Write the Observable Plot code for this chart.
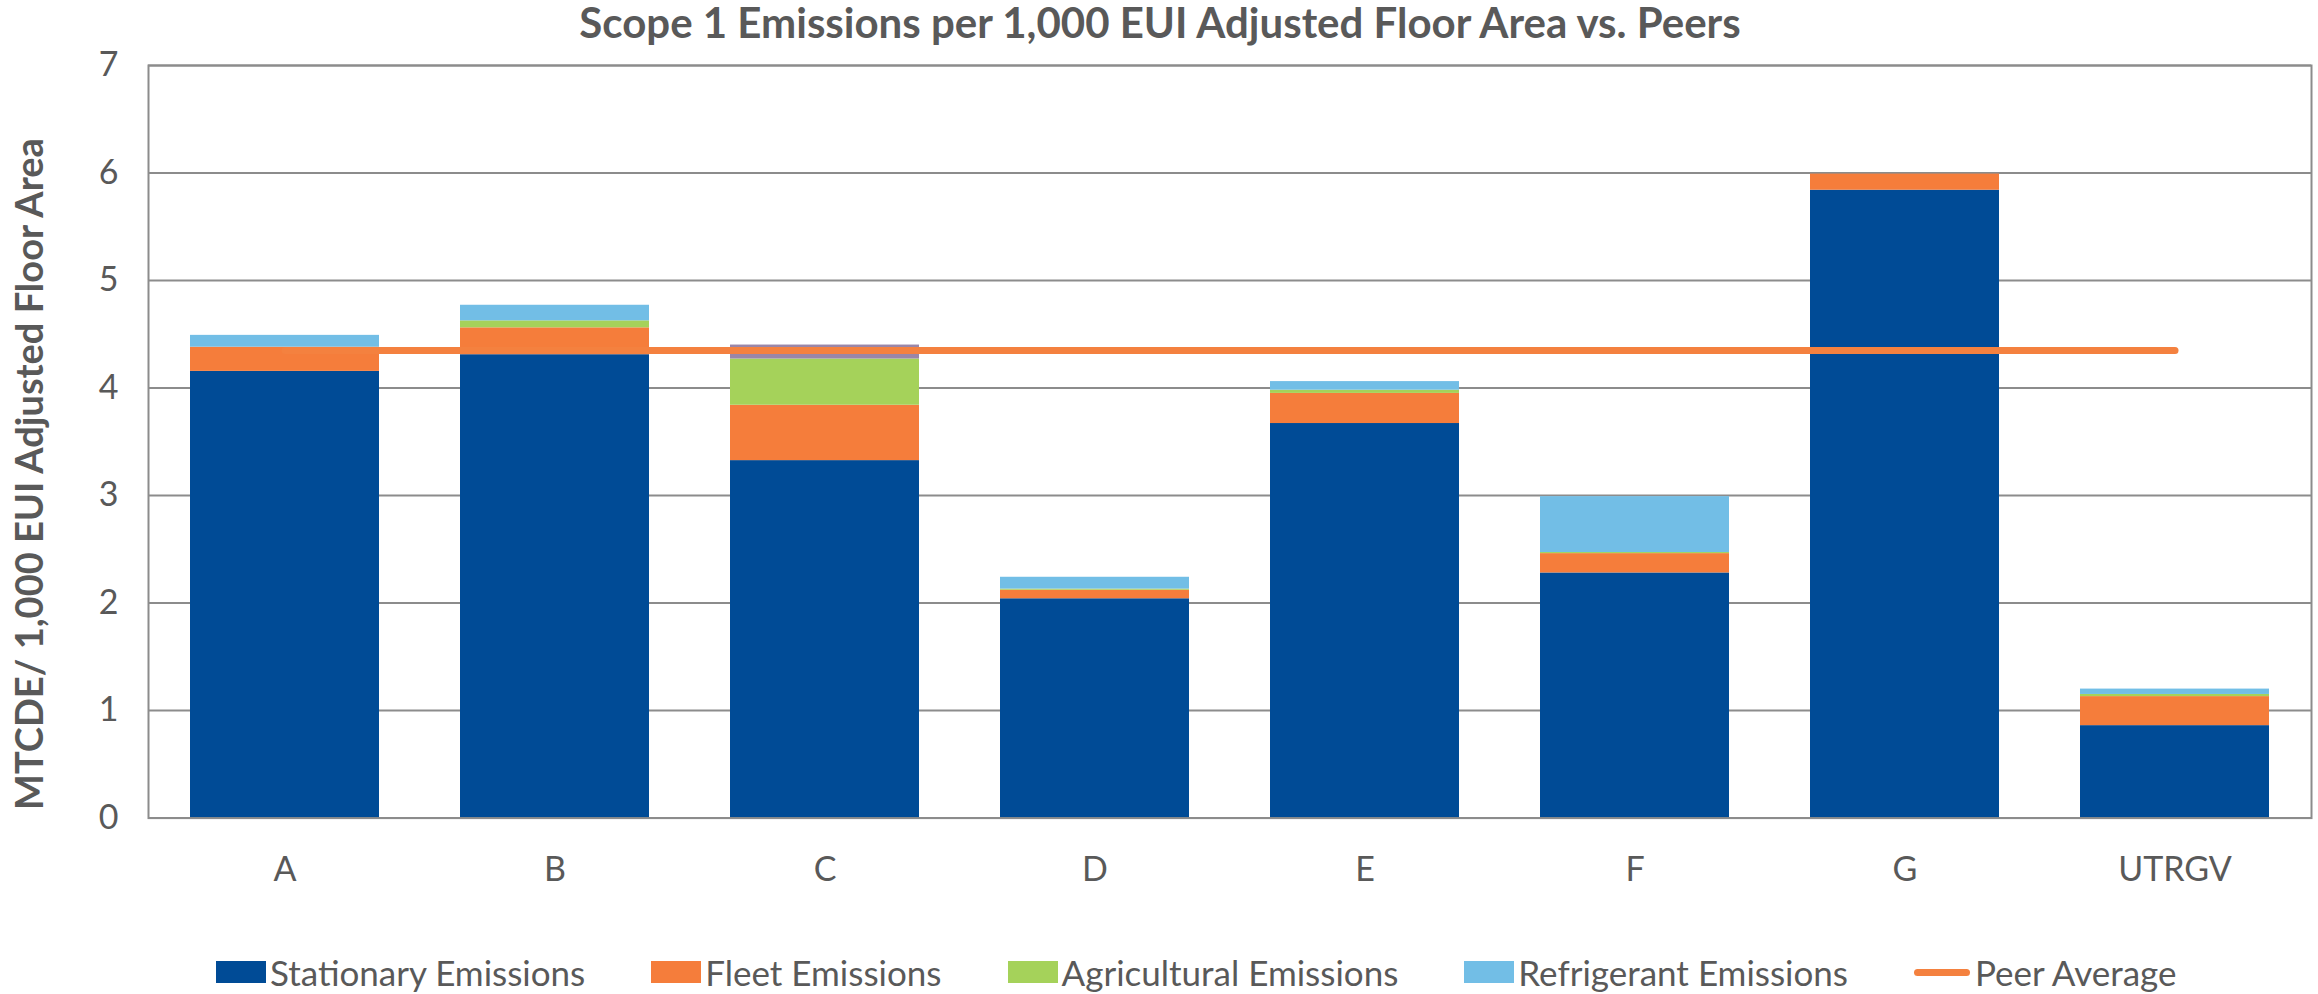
<!DOCTYPE html>
<html>
<head>
<meta charset="utf-8">
<script src="https://cdn.jsdelivr.net/npm/d3@7"></script>
<script src="https://cdn.jsdelivr.net/npm/@observablehq/plot@0.6"></script>
<style>
  html, body { margin: 0; padding: 0; background: #ffffff; }
  body { width: 2318px; height: 994px; overflow: hidden; font-family: Lato, "Open Sans", sans-serif; color: #595959; }
  #title { height: 44px; line-height: 44px; text-align: center; font-weight: bold; font-size: 42px; color: #595959; white-space: nowrap; padding-left: 2px; }
  #chart svg { display: block; }
  #legend { height: 94px; display: flex; align-items: center; padding-left: 216px; padding-top: 50px; box-sizing: border-box; white-space: nowrap; }
  .item { display: flex; align-items: center; margin-right: 66px; font-size: 35px; line-height: 44px; color: #595959; white-space: nowrap; }
  .sw { width: 50px; height: 22px; margin-right: 4px; display: inline-block; flex: none; }
  .ln { width: 56px; height: 7px; border-radius: 4px; margin-right: 5px; display: inline-block; flex: none; }
</style>
</head>
<body>
<div id="title"></div>
<div id="chart"></div>
<div id="legend"></div>
<script>
const titleText = "Scope 1 Emissions per 1,000 EUI Adjusted Floor Area vs. Peers";
const yLabel = "MTCDE/ 1,000 EUI Adjusted Floor Area";
const categories = ["A", "B", "C", "D", "E", "F", "G", "UTRGV"];
const stationary   = [4.155, 4.31, 3.325, 2.04, 3.67, 2.28, 5.84, 0.86];
const fleet        = [0.225, 0.25, 0.515, 0.08, 0.28, 0.18, 0.15, 0.27];
const agricultural = [0.00, 0.065, 0.43, 0.01, 0.03, 0.01, 0.00, 0.02];
const refrigerant  = [0.11, 0.145, 0.00, 0.11, 0.08, 0.52, 0.00, 0.05];
const other        = [0.00, 0.00, 0.13, 0.00, 0.00, 0.00, 0.00, 0.00];
const peerAverage  = [4.35, 4.35, 4.35, 4.35, 4.35, 4.35, 4.35, 4.35];
const yTicks = [0, 1, 2, 3, 4, 5, 6, 7];
const seriesNames = ["Stationary Emissions", "Fleet Emissions", "Agricultural Emissions", "Refrigerant Emissions", "Other"];
const seriesColors = ["#004b96", "#f57d3b", "#a5d25a", "#72bee6", "#9a86a8"];
const seriesValues = [stationary, fleet, agricultural, refrigerant, other];
const peerName = "Peer Average";
const peerColor = "#f4813f";
const yLabelAt = [3.2];

const rows = [];
categories.forEach((c, i) => {
  seriesNames.forEach((s, j) => rows.push({category: c, series: s, value: seriesValues[j][i]}));
});
const peerRows = categories.map((c, i) => ({category: c, value: peerAverage[i]}));

document.getElementById("title").textContent = titleText;

const chart = Plot.plot({
  width: 2318,
  height: 856,
  marginLeft: 148,
  marginRight: 7,
  marginTop: 21,
  marginBottom: 82.4,
  x: {domain: categories, paddingInner: 0.3, paddingOuter: 0.15, label: null, tickSize: 0, tickPadding: 39},
  y: {domain: [0, 7], ticks: yTicks, tickFormat: "d", label: null, tickSize: 0, tickPadding: 30},
  color: {domain: seriesNames, range: seriesColors},
  style: {fontFamily: "Lato, 'Open Sans', sans-serif", fontSize: "34px", color: "#595959", background: "#ffffff", overflow: "visible"},
  marks: [
    Plot.ruleY(yTicks, {stroke: "#8c8c8c", strokeWidth: 2}),
    Plot.barY(rows, {x: "category", y: "value", fill: "series"}),
    Plot.lineY(peerRows, {x: "category", y: "value", stroke: peerColor, strokeWidth: 7, strokeLinecap: "round"}),
    Plot.frame({stroke: "#8c8c8c", strokeWidth: 2}),
    Plot.text(yLabelAt, {y: d => d, text: () => yLabel, frameAnchor: "left", textAnchor: "middle", dx: -118, rotate: -90, fontWeight: "bold", fontSize: 38, fill: "#595959"})
  ]
});
document.getElementById("chart").appendChild(chart);

const legend = document.getElementById("legend");
seriesNames.slice(0, 4).forEach((s, j) => {
  const it = document.createElement("div");
  it.className = "item";
  const sw = document.createElement("span");
  sw.className = "sw";
  sw.style.background = seriesColors[j];
  it.appendChild(sw);
  it.appendChild(document.createTextNode(s));
  legend.appendChild(it);
});
const pit = document.createElement("div");
pit.className = "item";
const ln = document.createElement("span");
ln.className = "ln";
ln.style.background = peerColor;
pit.appendChild(ln);
pit.appendChild(document.createTextNode(peerName));
legend.appendChild(pit);
</script>
</body>
</html>
